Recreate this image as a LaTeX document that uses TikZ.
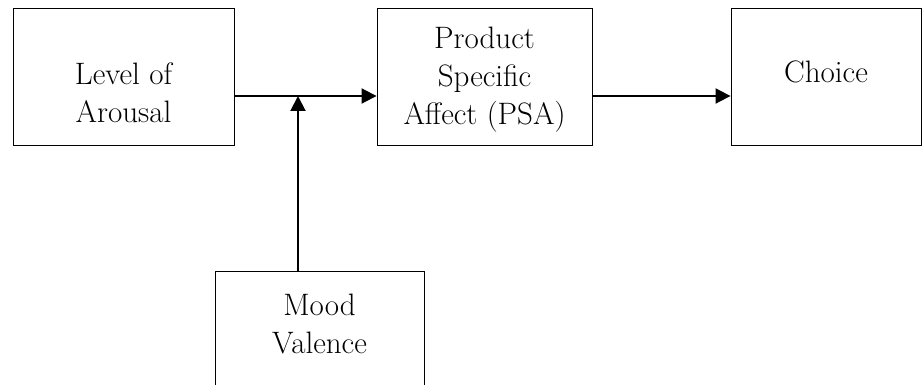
\documentclass[tikz,border=0pt]{standalone}
\usepackage{tikz}
\usetikzlibrary{positioning,arrows.meta}

\tikzset{
  box/.style={draw, line width=0.9pt, rectangle, minimum height=137pt, inner sep=0pt},
  boxtext/.style={align=center, font=\fontsize{31}{38}\selectfont},
  link/.style={line width=2pt, -{Triangle[length=15pt, width=15pt]}}
}

\begin{document}
\begin{tikzpicture}[x=1pt, y=-1pt]

        % frame of the picture
        \useasboundingbox (0,0) rectangle (922,385);
        \clip (0,0) rectangle (922,385);

        % boxes
        \node[box, minimum width=221pt] (arousal) at (123.5,76.5) {};
        \node[box, minimum width=215pt] (psa) at (484.5,76.5) {};
        \node[box, minimum width=190pt] (choice) at (826,76.5) {};
        \node[box, minimum width=209pt, minimum height=160pt] (mood) at (319.5,351) {};

        % box texts
        \node[boxtext] (arousal-txt) at (123.5,93) {Level of\\Arousal};
        \node[boxtext] (psa-txt) at (484.5,80) {Product\\Specific\\Affect (PSA)};
        \node[boxtext] (choice-txt) at (826,72) {Choice};
        \node[boxtext] (mood-txt) at (319.5,324) {Mood\\Valence};

        % arrows
        \draw[link] (arousal.east |- 0,96) -- (psa.west |- 0,96);
        \draw[link] (psa.east |- 0,96) -- (choice.west |- 0,96);
        \coordinate (join) at (298,96);
        \draw[link] (mood.north -| join) -- (join);

    \end{tikzpicture}
\end{document}
